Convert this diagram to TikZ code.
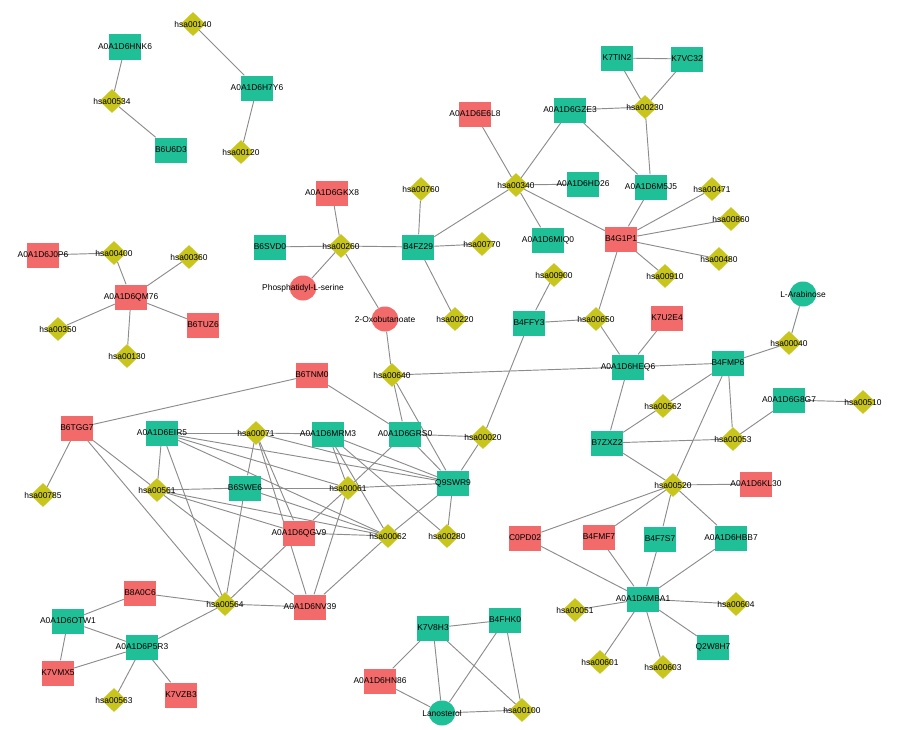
\documentclass[tikz,border=0pt]{standalone}
\usepackage{fontspec}
\setsansfont{Liberation Sans}
\usetikzlibrary{shapes.geometric, backgrounds}
\definecolor{nwteal}{HTML}{1FBF98}
\definecolor{nwred}{HTML}{F26A6A}
\definecolor{nwolive}{HTML}{C8C51C}
\definecolor{nwedge}{HTML}{8C8C8C}

\begin{document}
\begin{tikzpicture}[
  x=0.03cm, y=-0.03cm,
  every label/.style={inner sep=0pt, font=\fontsize{7.2}{8}\selectfont\sffamily, text=black},
  gene/.style={rectangle, fill=#1, minimum width=0.96cm, minimum height=0.75cm, inner sep=0pt},
  tgene/.style={gene=nwteal, label={center:#1}},
  rgene/.style={gene=nwred, label={center:#1}},
  pway/.style={diamond, fill=nwolive, minimum width=0.75cm, minimum height=0.72cm,
               inner sep=0pt, label={center:#1}},
  metab/.style={ellipse, fill=#1, minimum width=0.8cm, minimum height=0.75cm, inner sep=0pt},
  link/.style={draw=nwedge, line width=0.8pt},
]
\useasboundingbox (0,0) rectangle (900,729);

% proteins, teal
\foreach \n/\x/\y in {A0A1D6HNK6/125/47, B6U6D3/171/150, A0A1D6H7Y6/257/88,
    A0A1D6GZE3/570/110, K7TIN2/617/58, K7VC32/687/59, A0A1D6HD26/583/184,
    A0A1D6M5J5/651/187, A0A1D6MIQ0/548/240, B6SVD0/270/247, B4FZ29/418/247,
    B4FFY3/529/323, A0A1D6HEQ6/628/367, B4FMP6/728/363, A0A1D6G8G7/789/400,
    B7ZXZ2/607/443, A0A1D6EIR5/162/433, A0A1D6MRM3/328/434, A0A1D6GRS0/405/434,
    Q9SWR9/453/483, B6SWE6/245/488, B4F7S7/660/539, A0A1D6HBB7/731/538,
    A0A1D6MBA1/643/599, Q2W8H7/713/647, K7V8H3/433/628, B4FHK0/505/620,
    A0A1D6OTW1/68/621, A0A1D6P5R3/142/647}
  \node[tgene=\n] (\n) at (\x,\y) {};

% proteins, red
\foreach \n/\x/\y in {A0A1D6E6L8/475/114, A0A1D6GKX8/332/193, B4G1P1/621/239,
    A0A1D6J0P6/43/255, A0A1D6QM76/131/297, B6TUZ6/203/325, K7U2E4/667/318,
    B6TNM0/312/375, B6TGG7/77/428, A0A1D6QGV9/299/533, A0A1D6NV39/310/607,
    A0A1D6KL30/756/484, C0PD02/525/538, B4FMF7/599/537, B8A0C6/140/593,
    K7VMX5/58/673, K7VZB3/181/695, A0A1D6HN86/380/681}
  \node[rgene=\n] (\n) at (\x,\y) {};

% pathways
\foreach \n/\x/\y in {hsa00140/193/24, hsa00534/112/101, hsa00120/241/152,
    hsa00230/645/107, hsa00340/516/185, hsa00471/712/189, hsa00760/421/189,
    hsa00860/731/219, hsa00260/341/246, hsa00770/482/244, hsa00400/114/253,
    hsa00360/189/257, hsa00480/719/259, hsa00910/665/276, hsa00900/554/275,
    hsa00220/455/319, hsa00650/596/319, hsa00350/58/329, hsa00040/789/343,
    hsa00130/127/356, hsa00640/392/375, hsa00562/663/406, hsa00510/863/402,
    hsa00071/256/433, hsa00020/483/437, hsa00053/733/439, hsa00520/673/485,
    hsa00561/157/490, hsa00061/348/488, hsa00785/43/495, hsa00062/388/536,
    hsa00280/447/536, hsa00564/225/604, hsa00604/736/604, hsa00051/575/610,
    hsa00601/600/662, hsa00603/663/667, hsa00563/114/700, hsa00100/522/710}
  \node[pway=\n] (\n) at (\x,\y) {};

% metabolites
\node[metab=nwred, label={center:Phosphatidyl-L-serine}] (pls) at (303,288) {};
\node[metab=nwred, label={center:2-Oxobutanoate}] (oxo) at (385,319) {};
\node[metab=nwteal, label={center:L-Arabinose}] (arab) at (803,294) {};
\node[metab=nwteal, label={center:Lanosterol}] (lano) at (442,713) {};

\begin{scope}[on background layer]
\foreach \a/\b in {A0A1D6HNK6/hsa00534, hsa00534/B6U6D3, hsa00140/A0A1D6H7Y6,
    A0A1D6H7Y6/hsa00120,
    A0A1D6J0P6/hsa00400, hsa00400/A0A1D6QM76, hsa00360/A0A1D6QM76,
    A0A1D6QM76/hsa00350, A0A1D6QM76/B6TUZ6, A0A1D6QM76/hsa00130,
    B6SVD0/hsa00260, A0A1D6GKX8/hsa00260, hsa00260/B4FZ29, hsa00260/pls,
    hsa00260/oxo, B4FZ29/hsa00760, B4FZ29/hsa00770, B4FZ29/hsa00220,
    B4FZ29/hsa00340, hsa00340/A0A1D6E6L8, hsa00340/A0A1D6GZE3,
    hsa00340/A0A1D6HD26, hsa00340/A0A1D6MIQ0, hsa00340/B4G1P1,
    A0A1D6GZE3/hsa00230, A0A1D6GZE3/A0A1D6M5J5, K7TIN2/K7VC32, K7TIN2/hsa00230,
    K7VC32/hsa00230, hsa00230/A0A1D6M5J5, A0A1D6M5J5/B4G1P1, B4G1P1/hsa00471,
    B4G1P1/hsa00860, B4G1P1/hsa00480, B4G1P1/hsa00910, B4G1P1/hsa00650,
    B4FFY3/hsa00900, B4FFY3/hsa00650, B4FFY3/hsa00020, hsa00650/A0A1D6HEQ6,
    K7U2E4/A0A1D6HEQ6, oxo/hsa00640, hsa00640/A0A1D6HEQ6, A0A1D6HEQ6/B4FMP6,
    A0A1D6HEQ6/B7ZXZ2, B4FMP6/hsa00040, hsa00040/arab, B4FMP6/hsa00562,
    B4FMP6/hsa00053, B4FMP6/hsa00520, hsa00562/B7ZXZ2, B7ZXZ2/hsa00053,
    B7ZXZ2/hsa00520, A0A1D6G8G7/hsa00053, A0A1D6G8G7/hsa00510,
    hsa00520/A0A1D6KL30, hsa00520/C0PD02, hsa00520/B4FMF7, hsa00520/B4F7S7,
    hsa00520/A0A1D6HBB7, C0PD02/A0A1D6MBA1, B4FMF7/A0A1D6MBA1,
    B4F7S7/A0A1D6MBA1, A0A1D6HBB7/A0A1D6MBA1, A0A1D6MBA1/hsa00604,
    A0A1D6MBA1/Q2W8H7, A0A1D6MBA1/hsa00603, A0A1D6MBA1/hsa00601,
    A0A1D6MBA1/hsa00051,
    K7V8H3/B4FHK0, K7V8H3/A0A1D6HN86, K7V8H3/lano, K7V8H3/hsa00100,
    B4FHK0/lano, B4FHK0/hsa00100, A0A1D6HN86/lano, lano/hsa00100,
    B8A0C6/A0A1D6OTW1, B8A0C6/hsa00564, A0A1D6OTW1/A0A1D6P5R3,
    A0A1D6OTW1/K7VMX5, A0A1D6P5R3/K7VMX5, A0A1D6P5R3/hsa00563,
    A0A1D6P5R3/K7VZB3, A0A1D6P5R3/hsa00564,
    B6TNM0/B6TGG7, B6TNM0/A0A1D6GRS0, hsa00640/A0A1D6GRS0, hsa00640/Q9SWR9,
    A0A1D6GRS0/hsa00020, hsa00020/Q9SWR9, A0A1D6GRS0/Q9SWR9,
    A0A1D6GRS0/hsa00061, B6TGG7/hsa00785, B6TGG7/hsa00561, B6TGG7/hsa00564,
    A0A1D6EIR5/hsa00071, A0A1D6EIR5/hsa00561, A0A1D6EIR5/hsa00564,
    A0A1D6EIR5/Q9SWR9, A0A1D6EIR5/hsa00061, A0A1D6EIR5/hsa00062,
    hsa00561/B6SWE6, hsa00561/A0A1D6QGV9, hsa00561/A0A1D6NV39,
    hsa00561/hsa00062,
    hsa00071/A0A1D6MRM3, hsa00071/B6SWE6, hsa00071/A0A1D6QGV9,
    hsa00071/A0A1D6NV39, hsa00071/Q9SWR9, B6SWE6/hsa00061, B6SWE6/hsa00062,
    B6SWE6/hsa00564, A0A1D6MRM3/Q9SWR9, A0A1D6MRM3/hsa00061,
    A0A1D6MRM3/hsa00062, A0A1D6MRM3/hsa00280, hsa00061/Q9SWR9,
    hsa00061/A0A1D6QGV9, hsa00061/A0A1D6NV39, A0A1D6QGV9/hsa00062,
    A0A1D6QGV9/hsa00564, hsa00062/Q9SWR9, hsa00062/A0A1D6NV39,
    hsa00564/A0A1D6NV39, Q9SWR9/hsa00280}
  \draw[link] (\a) -- (\b);
\end{scope}
\end{tikzpicture}
\end{document}
